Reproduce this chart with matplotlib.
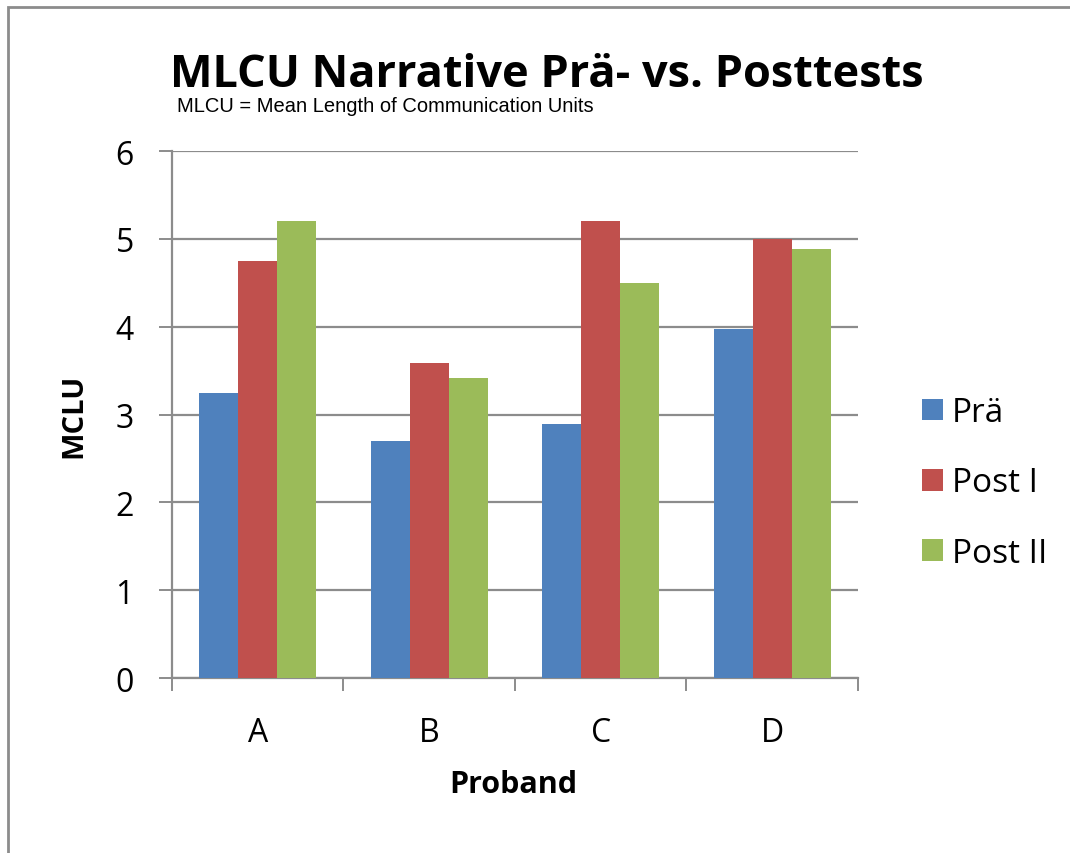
import numpy as np
import matplotlib
matplotlib.use("Agg")
import matplotlib.pyplot as plt
from matplotlib.patches import Rectangle

# data
probanden = ["A", "B", "C", "D"]
prae = [3.25, 2.70, 2.89, 3.97]
post1 = [4.75, 3.59, 5.20, 5.00]
post2 = [5.20, 3.42, 4.50, 4.88]
series_names = ["Prä", "Post I", "Post II"]
colors = ["#4F81BD", "#C0504D", "#9BBB59"]

plt.rcParams['font.family'] = ['Open Sans', 'DejaVu Sans']

fig = plt.figure(figsize=(10.7, 8.54), dpi=100)
ax = fig.add_axes([0.1607, 0.2049, 0.6411, 0.6171])

x = np.arange(len(probanden))
w = 0.228
for i, (vals, name, c) in enumerate(zip([prae, post1, post2], series_names, colors)):
    ax.bar(x + (i - 1) * w, vals, width=w, color=c, label=name, zorder=3)

ax.set_xlim(-0.5, 3.5)
ax.set_ylim(0, 6)
ax.set_yticks(range(0, 7))
ax.yaxis.grid(True, color="#8c8c8c", linewidth=1.6, zorder=0)
ax.set_axisbelow(True)

# category ticks at group boundaries, labels in the middle
ax.set_xticks(np.arange(-0.5, 4, 1))
ax.set_xticklabels([])
ax.set_xticks(x, minor=True)
ax.set_xticklabels(probanden, minor=True)
ax.tick_params(axis="x", which="major", length=9.4, width=1.4, color="#8c8c8c", direction="out")
ax.tick_params(axis="x", which="minor", length=0, labelsize=23, pad=27)
ax.tick_params(axis="y", length=9.4, width=1.4, color="#8c8c8c", labelsize=23, pad=18)

for s in ["top", "right"]:
    ax.spines[s].set_visible(False)
for s in ["left", "bottom"]:
    ax.spines[s].set_color("#8c8c8c")
    ax.spines[s].set_linewidth(1.6)

ax.set_xlabel("Proband", fontsize=22, fontweight="bold")
ax.xaxis.set_label_coords(0.497, -0.172)
ax.set_ylabel("MCLU", fontsize=21, fontweight="bold")
ax.yaxis.set_label_coords(-0.122, 0.5)

fig.text(0.511, 0.8985, "MLCU Narrative Prä- vs. Posttests", ha="center", va="baseline",
         fontsize=32.5, fontweight="bold")
fig.text(0.1655, 0.869, "MLCU = Mean Length of Communication Units", ha="left", va="baseline",
         fontsize=14.5, family=["Liberation Sans", "DejaVu Sans"])

ax.legend(loc="center left", bbox_to_anchor=(922 / 1070, 1 - 484 / 854),
          bbox_transform=fig.transFigure, frameon=False, fontsize=24, borderpad=0,
          borderaxespad=0, handlelength=0.63, handleheight=0.63, handletextpad=0.27,
          labelspacing=1.12)

# outer chart frame
fig.patches.append(Rectangle((8 / 1070, -0.05), 1.2, 1.05 - 8 / 854, transform=fig.transFigure,
                             fill=False, edgecolor="#8c8c8c", linewidth=2))

fig.savefig("out.png", dpi=100, facecolor="white")
